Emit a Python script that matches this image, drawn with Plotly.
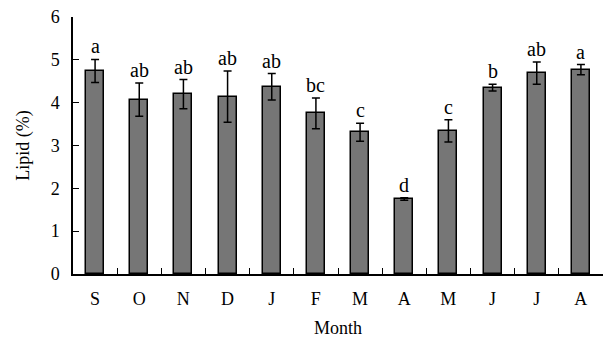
import plotly.graph_objects as go

months = ["S", "O", "N", "D", "J", "F", "M", "A", "M", "J", "J", "A"]
lipid = [4.74, 4.07, 4.20, 4.14, 4.37, 3.75, 3.31, 1.75, 3.34, 4.35, 4.69, 4.77]
lipid_err = [0.27, 0.39, 0.34, 0.60, 0.31, 0.36, 0.21, 0.03, 0.26, 0.08, 0.26, 0.12]
groups = ["a", "ab", "ab", "ab", "ab", "bc", "c", "d", "c", "b", "ab", "a"]

FONT = "Liberation Serif"
W, H = 606, 339
ML, MR, MT, MB = 73, 3, 17, 65
xpos = list(range(len(months)))

# ticks sit on the category boundaries; labels are shifted half a slot right
boundaries = [i - 0.5 for i in range(len(months) + 1)]
half_slot_px = int(round((W - ML - MR) / len(months) / 2))

fig = go.Figure()
fig.add_trace(go.Bar(
    x=xpos,
    y=lipid,
    width=0.41,
    marker=dict(color="#767676", line=dict(color="black", width=1.5)),
    error_y=dict(type="data", array=lipid_err, visible=True,
                 color="black", thickness=1.5, width=4),
    showlegend=False,
))

# significance letters above each error bar
for x, v, e, g in zip(xpos, lipid, lipid_err, groups):
    fig.add_annotation(x=x, y=v + e, text=g, showarrow=False,
                       yanchor="bottom", yshift=0,
                       font=dict(family=FONT, size=20, color="black"))

fig.update_layout(
    width=W, height=H,
    margin=dict(l=ML, r=MR, t=MT, b=MB),
    plot_bgcolor="white", paper_bgcolor="white",
    font=dict(family=FONT, size=18, color="black"),
    bargap=0,
)
fig.update_xaxes(
    range=[-0.5, 11.5],
    tickmode="array", tickvals=boundaries, ticktext=months + [""],
    ticklabelshift=half_slot_px,
    ticks="inside", ticklen=6, tickcolor="black", tickwidth=1.4,
    showgrid=False, zeroline=False,
    showline=True, linecolor="black", linewidth=1.5,
    ticklabelstandoff=8,
    title=dict(text="Month", font=dict(family=FONT, size=18), standoff=13),
)
fig.update_yaxes(
    range=[0, 6], tickvals=[0, 1, 2, 3, 4, 5, 6],
    ticks="inside", ticklen=6, tickcolor="black", tickwidth=1.4,
    showgrid=False, zeroline=False,
    showline=True, linecolor="black", linewidth=1.5,
    ticklabelstandoff=8,
    title=dict(text="Lipid (%)", font=dict(family=FONT, size=18), standoff=16),
)

fig.write_html("out.html")
